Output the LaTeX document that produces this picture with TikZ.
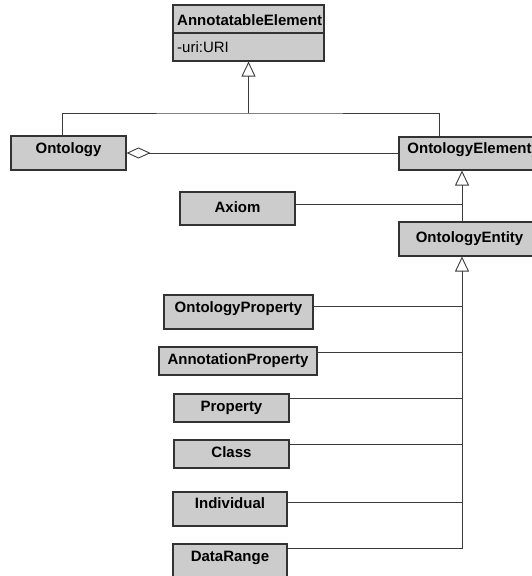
\documentclass[tikz,border=0pt]{standalone}
\usepackage{fontspec}
\setmainfont{Liberation Sans}
\usetikzlibrary{arrows.meta, positioning}
\definecolor{boxgray}{RGB}{204,204,204}
\definecolor{linegray}{RGB}{60,60,60}

\tikzset{
  umlbox/.style={draw=black!80, fill=boxgray, line width=1.1pt, inner sep=0pt,
    font=\fontsize{15}{18}\selectfont\bfseries, text height=10.7pt, text depth=#1},
  umlbox/.default=6pt,
  link/.style={draw=linegray, line width=0.9pt},
  inherit/.style={link, -{Triangle[open, length=15pt, width=14pt]}},
  aggr/.style={link, {Diamond[open, length=24pt, width=11pt]}-},
}

\begin{document}
\begin{tikzpicture}[x=1pt, y=-1pt]
  \useasboundingbox (0,0) rectangle (531,576);

  % the root class
  \node[umlbox, minimum width=151pt, minimum height=56pt] (annot) at (248.5,33) {};
  \draw[draw=black!80, line width=1.1pt] (annot.west |- 0,33) -- (annot.east |- 0,33);
  \node[anchor=west, font=\fontsize{15}{18}\selectfont\bfseries, inner sep=0pt] (annottitle) at (177,20) {AnnotatableElement};
  \node[anchor=west, font=\fontsize{15}{18}\selectfont, inner sep=0pt] (annoturi) at (177,47) {-uri:URI};

  \node[umlbox=10pt, minimum width=115pt, minimum height=34pt] (ontology) at (68.5,153) {Ontology};
  \node[umlbox=11pt, minimum width=141pt, minimum height=33pt] (element) at (469.5,153.5) {OntologyElement};
  \node[umlbox=3pt, minimum width=115pt, minimum height=33pt] (axiom) at (237.5,208.5) {Axiom};
  \node[umlbox=4pt, minimum width=141pt, minimum height=34pt] (entity) at (469.5,239) {OntologyEntity};

  % subclasses of OntologyEntity
  \node[umlbox=10pt, minimum width=149pt, minimum height=34pt] (ontprop) at (238.5,312) {OntologyProperty};
  \node[umlbox=4pt, minimum width=158pt, minimum height=28pt] (annprop) at (238,361) {AnnotationProperty};
  \node[umlbox=4pt, minimum width=115pt, minimum height=28pt] (property) at (231.5,408) {Property};
  \node[umlbox=4pt, minimum width=115pt, minimum height=28pt] (class) at (231.5,454) {Class};
  \node[umlbox=12pt, minimum width=114pt, minimum height=34pt] (individual) at (230,509) {Individual};
  \node[umlbox=10pt, minimum width=114pt, minimum height=34pt] (datarange) at (230,561) {DataRange};

  \coordinate (fork) at (annot.south |- 0,113);
  \coordinate (spine) at (462,549);

  \draw[link] ([xshift=-6.5pt]ontology.north) |- (fork) -| ([xshift=41pt]element.north west);
  \draw[inherit] (fork) -- (annot.south);
  \draw[aggr] (ontology.east) -- (ontology.east -| element.west);
  \draw[inherit] (spine |- entity.north) -- (spine |- element.south);
  \draw[link] ([yshift=4.5pt]axiom.east) -- ([yshift=4.5pt]axiom.east -| spine);
  \draw[inherit] (spine) -- (spine |- entity.south);
  \foreach \cls/\dy in {ontprop/12, annprop/6, property/5, class/5, individual/11, datarange/5}
    \draw[link] ([yshift=-\dy pt]\cls.north east) -| (spine);
\end{tikzpicture}
\end{document}
